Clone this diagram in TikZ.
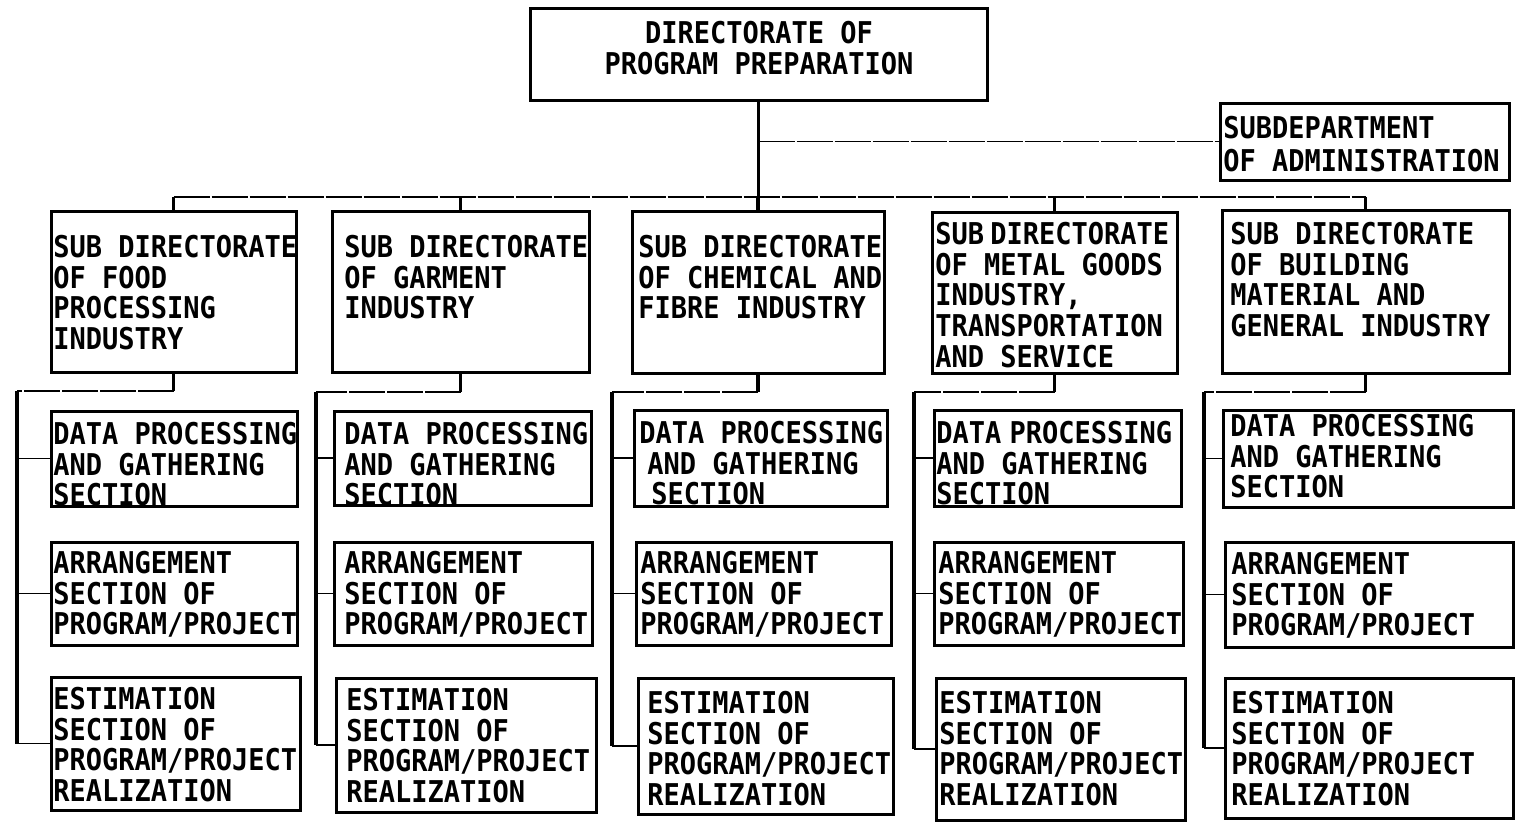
\documentclass[tikz,border=0pt]{standalone}
\usepackage{fontspec}
\newfontfamily\chartfont{DejaVu Sans Mono}[FakeStretch=0.9]
\usetikzlibrary{fit}
\tikzset{
  bx/.style={draw=black, line width=1.5pt, inner sep=0pt},
  tx/.style={anchor=north west, align=left, inner sep=0pt, font=\chartfont\bfseries\fontsize{15}{15.3}\selectfont},
  vl/.style={draw=black, line width=1.6pt},
  hl/.style={draw=black, line width=0.8pt, dash pattern=on 18pt off 1pt},
}
\newcommand\mkbox[5]{\node[bx, fit={(#2,#3) (#4,#5)}] (#1) {};}
\newcommand\mktxt[4]{\node[tx] (#1) at (#2,#3) {#4};}
\begin{document}
\begin{tikzpicture}[x=0.5pt, y=-0.5pt]
\useasboundingbox[fill=white] (0,0) rectangle (1524,831);
% top
\mkbox{top}{530}{8}{987}{100}
\node[tx, anchor=center, align=center] (ttop) at (759,48) {DIRECTORATE OF\\PROGRAM PREPARATION};
\mkbox{adm}{1220}{103}{1509}{180}
\node[tx, font=\chartfont\bfseries\fontsize{15}{16.5}\selectfont] (tadm) at (1223,116) {SUBDEPARTMENT\\OF ADMINISTRATION};
% sub directorates
\mkbox{s1}{51}{211}{296}{372}
\mkbox{s2}{332}{211}{589}{372}
\mkbox{s3}{632}{211}{884}{373}
\mkbox{s4}{932}{212}{1177}{373}
\mkbox{s5}{1222}{210}{1509}{373}
\mktxt{ts1}{53}{235}{SUB DIRECTORATE\\OF FOOD\\PROCESSING\\INDUSTRY}
\mktxt{ts2}{344}{235}{SUB DIRECTORATE\\OF GARMENT\\INDUSTRY}
\mktxt{ts3}{638}{235}{SUB DIRECTORATE\\OF CHEMICAL AND\\FIBRE INDUSTRY}
\mktxt{ts4}{935}{222}{SUB\kern-5pt\ DIRECTORATE\\OF METAL GOODS\\INDUSTRY,\\TRANSPORTATION\\AND SERVICE}
\mktxt{ts5}{1230}{222}{SUB DIRECTORATE\\OF BUILDING\\MATERIAL AND\\GENERAL INDUSTRY}
% data sections
\mkbox{d1}{51}{411}{297}{506}
\mkbox{d2}{334}{411}{591}{505}
\mkbox{d3}{634}{410}{887}{506}
\mkbox{d4}{934}{410}{1181}{506}
\mkbox{d5}{1223}{410}{1513}{507}
\mktxt{td1}{53}{422}{DATA PROCESSING\\AND GATHERING\\SECTION}
\mktxt{td2}{344}{422}{DATA PROCESSING\\AND GATHERING\\SECTION}
\mktxt{td3}{639}{421}{DATA PROCESSING\\\hspace{4pt}AND GATHERING\\\hspace{6pt}SECTION}
\mktxt{td4}{936}{421}{DATA\kern-4pt\ PROCESSING\\AND GATHERING\\SECTION}
\mktxt{td5}{1230}{414}{DATA PROCESSING\\AND GATHERING\\SECTION}
% arrangement sections
\mkbox{a1}{51}{542}{297}{645}
\mkbox{a2}{334}{542}{592}{645}
\mkbox{a3}{636}{542}{891}{645}
\mkbox{a4}{934}{542}{1183}{645}
\mkbox{a5}{1225}{542}{1513}{647}
\mktxt{ta1}{53}{551}{ARRANGEMENT\\SECTION OF\\PROGRAM/PROJECT}
\mktxt{ta2}{344}{551}{ARRANGEMENT\\SECTION OF\\PROGRAM/PROJECT}
\mktxt{ta3}{640}{551}{ARRANGEMENT\\SECTION OF\\PROGRAM/PROJECT}
\mktxt{ta4}{938}{551}{ARRANGEMENT\\SECTION OF\\PROGRAM/PROJECT}
\mktxt{ta5}{1231}{552}{ARRANGEMENT\\SECTION OF\\PROGRAM/PROJECT}
% estimation sections
\mkbox{e1}{51}{677}{300}{810}
\mkbox{e2}{336}{678}{596}{812}
\mkbox{e3}{638}{678}{893}{814}
\mkbox{e4}{936}{678}{1185}{820}
\mkbox{e5}{1225}{678}{1513}{818}
\mktxt{te1}{53}{687}{ESTIMATION\\SECTION OF\\PROGRAM/PROJECT\\REALIZATION}
\mktxt{te2}{346}{688}{ESTIMATION\\SECTION OF\\PROGRAM/PROJECT\\REALIZATION}
\mktxt{te3}{647}{691}{ESTIMATION\\SECTION OF\\PROGRAM/PROJECT\\REALIZATION}
\mktxt{te4}{939}{691}{ESTIMATION\\SECTION OF\\PROGRAM/PROJECT\\REALIZATION}
\mktxt{te5}{1231}{691}{ESTIMATION\\SECTION OF\\PROGRAM/PROJECT\\REALIZATION}
% coordinates
\coordinate (bus) at (0,197);
\coordinate (r1) at (17,391);
\coordinate (r2) at (316,392);
\coordinate (r3) at (612,392);
\coordinate (r4) at (914,392);
\coordinate (r5) at (1204,392);
% top connectors
\draw[vl] (top.south) -- (top.south |- bus);
\draw[hl] (top.south |- adm.west) -- (adm.west);
\draw[hl] (s1.north |- bus) -- (s5.north |- bus);
\foreach \i in {1,...,5}{
  \draw[vl] (s\i.north |- bus) -- (s\i.north);
  \draw[vl] (s\i.south) -- (s\i.south |- r\i);
  \draw[hl] (s\i.south |- r\i) -- (r\i);
  \draw[vl] (r\i) -- (r\i |- e\i.west);
  \draw[hl] (r\i |- d\i.west) -- (d\i.west);
  \draw[hl] (r\i |- a\i.west) -- (a\i.west);
  \draw[hl] (r\i |- e\i.west) -- (e\i.west);
}
\end{tikzpicture}
\end{document}
